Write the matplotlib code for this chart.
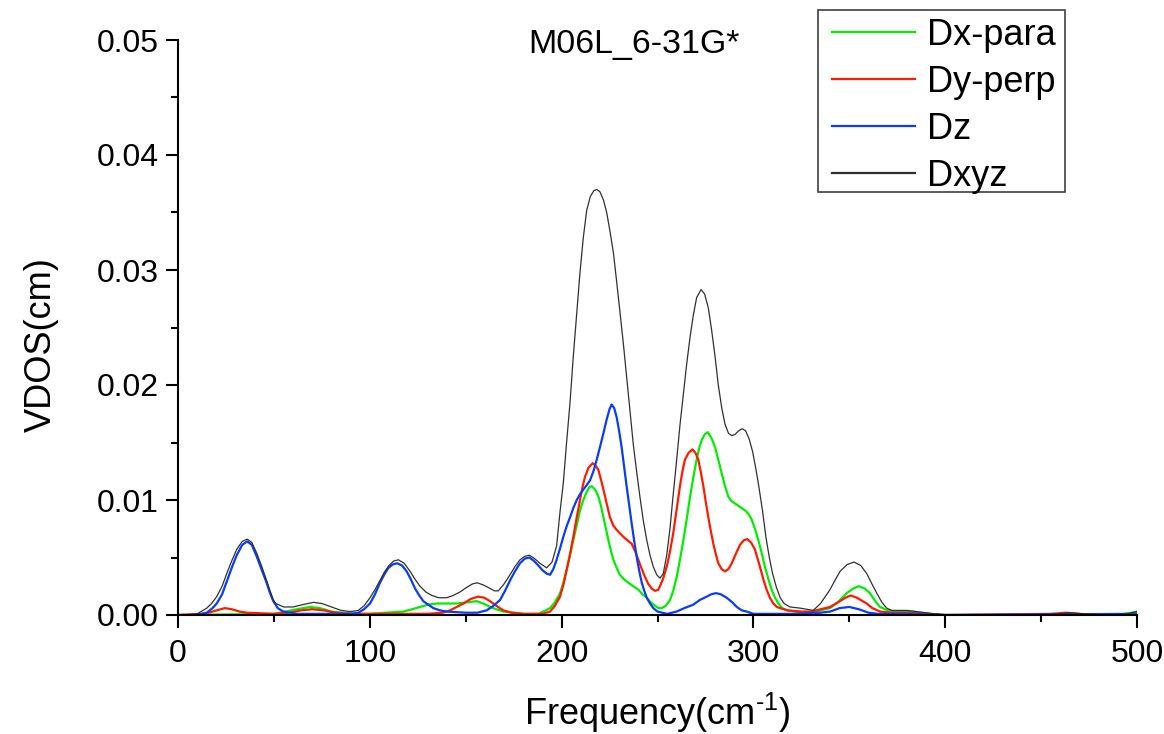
import matplotlib
matplotlib.use("Agg")
import matplotlib.pyplot as plt
from matplotlib.patches import Rectangle
from matplotlib.ticker import MultipleLocator, FormatStrFormatter

plt.rcParams["font.family"] = ["Liberation Sans", "DejaVu Sans"]
plt.rcParams["mathtext.fontset"] = "custom"
plt.rcParams["mathtext.rm"] = "Liberation Sans"

# VDOS components, frequency in cm^-1
freq_x = [0, 50, 56, 62, 68.8, 74, 80, 86, 92, 100, 108, 117.5, 122, 126.2, 130.5,
          134.9, 140, 145.3, 150.5, 155.7, 159.2, 162.7, 166, 169.6, 175, 180, 188,
          194, 196.5, 199.2, 200.9, 202.6, 204.4, 206.1, 207.9, 209.6, 211.3, 213.1,
          214.4, 215.7, 217.5, 219.2, 220.5, 221.8, 223.1, 224.4, 225.7, 227, 228.7,
          230.4, 232.6, 234.8, 237.4, 240, 242.2, 244.4, 246.5, 248.7, 250.5, 252.2,
          254.3, 256.5, 258.2, 260, 261.7, 263.5, 265.2, 267, 268.7, 270.4, 271.7,
          273, 274.6, 276.2, 278.1, 280, 281.7, 283.5, 285.2, 286.9, 288.6, 290.4,
          293, 295.6, 297.4, 299.1, 300.8, 302.6, 304.3, 306, 307.7, 309.5, 311.3,
          313, 315, 317.4, 322, 328, 333, 335, 339.9, 344, 348.6, 352, 355, 358,
          360.8, 363.5, 366, 370, 375, 383, 390, 400, 490, 497, 500]
dx_para = [0, 0.0001, 0.0003, 0.0005, 0.0007, 0.0006, 0.0003, 0.0002, 0.0001,
           0.0001, 0.0002, 0.0003, 0.0005, 0.0007, 0.0009, 0.0010, 0.0010, 0.0010,
           0.0011, 0.0012, 0.0010, 0.0007, 0.0005, 0.0003, 0.0002, 0.0001, 0.0001,
           0.0006, 0.0011, 0.0019, 0.0028, 0.0039, 0.0052, 0.0065, 0.0078, 0.0091,
           0.0100, 0.0107, 0.0111, 0.0112, 0.0109, 0.0103, 0.0095, 0.0085, 0.0075,
           0.0065, 0.0056, 0.0048, 0.0041, 0.0035, 0.0031, 0.0028, 0.0025, 0.0022,
           0.0018, 0.0015, 0.0011, 0.0008, 0.0006, 0.0006, 0.0008, 0.0013, 0.0021,
           0.0033, 0.0048, 0.0065, 0.0083, 0.0103, 0.0120, 0.0135, 0.0145, 0.0152,
           0.0157, 0.0159, 0.0154, 0.0146, 0.0135, 0.0123, 0.0112, 0.0103, 0.0099,
           0.0097, 0.0094, 0.0091, 0.0088, 0.0083, 0.0075, 0.0065, 0.0054, 0.0042,
           0.0032, 0.0022, 0.0015, 0.0010, 0.0006, 0.0004, 0.0003, 0.0002, 0.0003,
           0.0004, 0.0006, 0.0011, 0.0019, 0.0023, 0.0025, 0.0023, 0.0019, 0.0012,
           0.0007, 0.0004, 0.0003, 0.0003, 0.0001, 0, 0, 0.0002, 0.0003]

freq_y = [0, 12, 16, 20, 24.5, 28, 32, 36, 50, 58, 64, 70, 76, 82, 90, 100, 130, 138,
          141.8, 145.3, 148.8, 152.7, 156.6, 159.7, 162.7, 166, 169.6, 174, 180, 190,
          194, 196.5, 199.2, 200.9, 202.6, 204.4, 206.1, 207.9, 209.6, 211, 212.2, 214,
          216.2, 217.7, 219.2, 220.5, 221.8, 223.5, 225.2, 226.9, 228.7, 230.4, 232.2,
          234.3, 236.5, 238.2, 240, 241.8, 243.5, 245.2, 247, 248.7, 250.4, 251.3, 253,
          254.8, 256.5, 258.2, 260, 261.7, 263, 264.3, 266.2, 268.2, 269.8, 271.3,
          272.6, 273.9, 275.2, 276.5, 277.8, 279.1, 280.4, 281.7, 283.4, 285.2, 287,
          288.7, 290.8, 293, 295, 296.8, 298.8, 300.8, 302, 303.4, 305.2, 306.9, 308.6,
          310.4, 312.2, 313.9, 318, 325, 330, 335, 340, 345, 348, 350.7, 354, 357,
          359.1, 362, 366, 372, 380, 390, 400, 455, 463, 470, 480, 500]
dy_perp = [0, 0.0001, 0.0002, 0.0004, 0.0006, 0.0005, 0.0003, 0.0002, 0.0001,
           0.0002, 0.0004, 0.0005, 0.0004, 0.0002, 0.0001, 0.0001, 0.0001, 0.0002,
           0.0004, 0.0007, 0.0010, 0.0014, 0.0016, 0.0015, 0.0012, 0.0008, 0.0004,
           0.0002, 0.0001, 0.0001, 0.0003, 0.0008, 0.0016, 0.0026, 0.0039, 0.0053,
           0.0068, 0.0085, 0.0100, 0.0112, 0.0120, 0.0128, 0.0132, 0.0130, 0.0126,
           0.0118, 0.0109, 0.0097, 0.0085, 0.0078, 0.0074, 0.0071, 0.0068, 0.0065,
           0.0062, 0.0056, 0.0048, 0.0040, 0.0033, 0.0027, 0.0023, 0.0021, 0.0022,
           0.0025, 0.0032, 0.0042, 0.0055, 0.0071, 0.0092, 0.0112, 0.0125, 0.0135,
           0.0141, 0.0144, 0.0141, 0.0135, 0.0124, 0.0112, 0.0098, 0.0085, 0.0073,
           0.0062, 0.0053, 0.0045, 0.0040, 0.0038, 0.0040, 0.0045, 0.0053, 0.0061,
           0.0065, 0.0066, 0.0063, 0.0057, 0.0050, 0.0042, 0.0031, 0.0022, 0.0015,
           0.0010, 0.0007, 0.0006, 0.0004, 0.0003, 0.0003, 0.0005, 0.0007, 0.0012,
           0.0015, 0.0017, 0.0015, 0.0012, 0.0010, 0.0006, 0.0003, 0.0002, 0.0002,
           0.0001, 0, 0.0001, 0.0002, 0.0001, 0, 0.0001]

freq_z = [0, 10, 15, 18, 20.2, 23, 25.4, 28, 30.6, 33.5, 36.1, 38.5, 41, 43.5, 46.2,
          48, 49.7, 52, 54.9, 62, 75, 90, 94, 97, 100.1, 102.7, 105.3, 107.5, 109.7,
          112, 114.3, 116.8, 119.2, 121.4, 123.6, 125.8, 127.9, 130.5, 133.1, 136.6,
          140.1, 150, 156, 160.9, 164.4, 167.9, 170.5, 173.1, 175.7, 178.3, 180.8,
          183.2, 185.6, 187.9, 190, 192.2, 194, 195.7, 197.4, 199.2, 200.9, 202.6,
          204.4, 206.1, 207.9, 209.6, 211.3, 213.1, 214.8, 216.6, 218.3, 220, 221.8,
          223.5, 225, 226.1, 227.4, 228.7, 230, 231.3, 232.6, 233.9, 235.2, 236.5,
          237.8, 239.1, 240.4, 241.8, 243.1, 244.4, 246.1, 247.8, 250, 255, 260, 264,
          268.7, 272, 275.7, 278, 280.5, 283, 286.1, 289, 291.3, 294, 296.5, 300, 320,
          335, 340, 345, 350, 355, 360, 365, 380, 400, 500]
dz = [0, 0, 0.0002, 0.0006, 0.0010, 0.0018, 0.0029, 0.0041, 0.0052, 0.0061, 0.0064,
      0.0061, 0.0051, 0.0040, 0.0028, 0.0019, 0.0012, 0.0006, 0.0003, 0.0001, 0.0001,
      0.0001, 0.0002, 0.0005, 0.0010, 0.0018, 0.0028, 0.0035, 0.0041, 0.0044, 0.0045,
      0.0043, 0.0038, 0.0031, 0.0023, 0.0017, 0.0012, 0.0009, 0.0006, 0.0004, 0.0003,
      0.0002, 0.0002, 0.0004, 0.0008, 0.0013, 0.0021, 0.0030, 0.0038, 0.0045, 0.0049,
      0.0050, 0.0047, 0.0043, 0.0039, 0.0036, 0.0035, 0.0040, 0.0048, 0.0058, 0.0068,
      0.0077, 0.0085, 0.0093, 0.0100, 0.0105, 0.0109, 0.0113, 0.0117, 0.0125, 0.0135,
      0.0146, 0.0158, 0.0170, 0.0179, 0.0183, 0.0180, 0.0172, 0.0160, 0.0146, 0.0129,
      0.0112, 0.0096, 0.0080, 0.0065, 0.0051, 0.0039, 0.0028, 0.0021, 0.0015, 0.0010,
      0.0006, 0.0003, 0.0001, 0.0003, 0.0006, 0.0009, 0.0013, 0.0016, 0.0018, 0.0019,
      0.0018, 0.0015, 0.0011, 0.0007, 0.0004, 0.0003, 0.0001, 0.0001, 0.0002, 0.0003,
      0.0006, 0.0007, 0.0005, 0.0002, 0.0001, 0.0001, 0, 0.0001]

freq_xyz = [0, 5, 10, 15, 17.5, 20.2, 23, 25.4, 28, 30.6, 33.5, 36.1, 38.5, 41, 43.5,
            46.2, 48, 49.7, 51, 55, 60, 65, 70.6, 75, 80, 85, 90, 94, 97, 100.1, 102.7,
            105.3, 107.5, 110, 112.5, 114.9, 117.9, 121, 123.6, 126.2, 129.2, 132.3,
            136, 140.1, 143.5, 147, 150.5, 153.5, 156, 159.4, 162.7, 165, 167, 170,
            173.1, 175.7, 178.3, 180.8, 183.2, 185.9, 188.7, 192.2, 195, 197.4, 199.2,
            200.9, 202.6, 204.4, 206.1, 207.9, 209.6, 211.3, 213.1, 215, 216.8, 218.3,
            220, 221.8, 223.5, 225.2, 227, 228.7, 230.4, 232.2, 233.9, 235.6, 237.4,
            239.1, 240.9, 242.6, 244.4, 246.1, 247.8, 249.6, 251.3, 253, 254.8, 256.5,
            258.2, 260, 261.7, 263.5, 265.2, 267, 268.7, 270.4, 272.7, 274.6, 276.5,
            278.2, 280, 281.7, 283.5, 285.2, 287, 288.7, 290.4, 292.2, 294.2, 296,
            297.8, 299.6, 301.3, 303, 304.8, 306.5, 308.3, 310, 312, 314, 316, 319,
            324.3, 331.2, 335, 339.9, 342.5, 345.2, 349, 352.5, 356, 359.1, 361.5,
            364.3, 367, 369.5, 372, 380, 385, 390, 395, 400, 450, 458, 465, 472, 485,
            495, 500]
dxyz = [0, 0, 0.0001, 0.0006, 0.0010, 0.0016, 0.0025, 0.0036, 0.0047, 0.0057, 0.0064,
        0.0066, 0.0063, 0.0054, 0.0043, 0.0030, 0.0021, 0.0013, 0.0010, 0.0007,
        0.0007, 0.0009, 0.0011, 0.0010, 0.0007, 0.0004, 0.0003, 0.0004, 0.0008,
        0.0015, 0.0022, 0.0030, 0.0037, 0.0043, 0.0047, 0.0048, 0.0045, 0.0038,
        0.0031, 0.0025, 0.0020, 0.0017, 0.0015, 0.0015, 0.0017, 0.0020, 0.0024,
        0.0027, 0.0028, 0.0026, 0.0023, 0.0021, 0.0021, 0.0027, 0.0035, 0.0042,
        0.0048, 0.0051, 0.0052, 0.0049, 0.0045, 0.0041, 0.0046, 0.0060, 0.0090,
        0.0115, 0.0150, 0.0185, 0.0225, 0.0262, 0.0298, 0.0328, 0.0352, 0.0364,
        0.0369, 0.0370, 0.0368, 0.0361, 0.0350, 0.0334, 0.0315, 0.0290, 0.0264,
        0.0236, 0.0207, 0.0178, 0.0148, 0.0125, 0.0102, 0.0082, 0.0065, 0.0052,
        0.0042, 0.0035, 0.0032, 0.0036, 0.0052, 0.0075, 0.0105, 0.0135, 0.0165,
        0.0192, 0.0218, 0.0242, 0.0261, 0.0276, 0.0283, 0.0279, 0.0267, 0.0248,
        0.0225, 0.0200, 0.0180, 0.0166, 0.0158, 0.0156, 0.0157, 0.0160, 0.0162,
        0.0160, 0.0153, 0.0142, 0.0127, 0.0110, 0.0090, 0.0068, 0.0050, 0.0036,
        0.0024, 0.0015, 0.0010, 0.0007, 0.0006, 0.0004, 0.0010, 0.0022, 0.0030,
        0.0038, 0.0044, 0.0046, 0.0043, 0.0036, 0.0028, 0.0019, 0.0011, 0.0006,
        0.0004, 0.0004, 0.0003, 0.0002, 0.0001, 0, 0, 0.0001, 0.0002, 0.0001, 0,
        0.0001, 0.0003]

W, H = 1164, 734
fig = plt.figure(figsize=(W / 100, H / 100), dpi=100)
ax = fig.add_axes([178 / W, 1 - 615 / H, (1137 - 178) / W, (615 - 40) / H])

ax.plot(freq_x, dx_para, color="#00ee00", lw=1.6, label="Dx-para")
ax.plot(freq_y, dy_perp, color="#ff1a00", lw=1.6, label="Dy-perp")
ax.plot(freq_z, dz, color="#0a3cf5", lw=1.6, label="Dz")
ax.plot(freq_xyz, dxyz, color="#303030", lw=0.9, label="Dxyz")

ax.set_xlim(0, 500)
ax.set_ylim(0, 0.05)
ax.xaxis.set_major_locator(MultipleLocator(100))
ax.xaxis.set_minor_locator(MultipleLocator(50))
ax.yaxis.set_major_locator(MultipleLocator(0.01))
ax.yaxis.set_minor_locator(MultipleLocator(0.005))
ax.yaxis.set_major_formatter(FormatStrFormatter("%.2f"))

for side in ("top", "right"):
    ax.spines[side].set_visible(False)
for side in ("left", "bottom"):
    ax.spines[side].set_linewidth(1.5)

ax.tick_params(which="major", direction="out", length=9, width=1.5, labelsize=23)
ax.tick_params(which="minor", direction="out", length=5, width=1.5)
ax.tick_params(axis="x", which="major", pad=8)
ax.tick_params(axis="y", which="major", pad=5)

ax.set_xlabel(r"Frequency(cm$^{\mathregular{\text{-1}}}$)", fontsize=26, labelpad=16)
ax.set_ylabel("VDOS(cm)", fontsize=26, labelpad=28)
ax.yaxis.set_label_coords(-0.124, 0.47)

fig.text(634 / W, 1 - 44 / H, "M06L_6-31G*", fontsize=24.5, ha="center", va="center")

# legend box sits partly above the plot area
fig.patches.append(Rectangle((818 / W, 1 - 192 / H), (1065 - 818) / W, (192 - 10) / H,
                             transform=fig.transFigure, fill=True, facecolor="white",
                             edgecolor="#404040", lw=1.2, zorder=5))
handles, labels = ax.get_legend_handles_labels()
leg = fig.legend(handles, labels, loc="upper left", bbox_to_anchor=(832 / W, 1 - 18 / H),
                 fontsize=26, frameon=False, handlelength=2.3, handletextpad=0.33,
                 labelspacing=0.33, borderpad=0, borderaxespad=0)
leg.set_zorder(6)
for line in leg.get_lines():
    line.set_linewidth(1.6)

fig.savefig("out.png", dpi=100)
